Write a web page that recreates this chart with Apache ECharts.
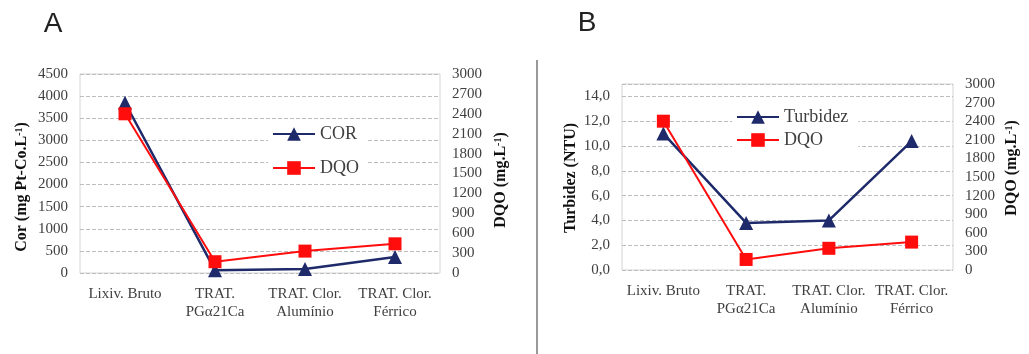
<!DOCTYPE html>
<html>
<head>
<meta charset="utf-8">
<script src="https://cdn.jsdelivr.net/npm/echarts@6/dist/echarts.min.js"></script>
<style>
html, body { margin: 0; padding: 0; background: #fff; }
#main { width: 1029px; height: 354px; }
</style>
</head>
<body>
<div id="main"></div>
<script>
// data
var categories = ['Lixiv. Bruto', 'TRAT.\nPGα21Ca', 'TRAT. Clor.\nAlumínio', 'TRAT. Clor.\nFérrico'];
var corA = [3850, 60, 90, 360];
var dqoA = [2400, 170, 330, 440];
var turbidezB = [11.0, 3.8, 4.0, 10.4];
var dqoB = [2400, 170, 350, 450];

var serif = "'Liberation Serif', 'Times New Roman', serif";
var navy = '#1f2a6b';
var red = '#ff0d0d';

function makeChart() {
    var chart = echarts.init(document.getElementById('main'));

    var tickLabel = { color: '#404040', fontFamily: serif, fontSize: 15 };
    var plain = function (v) { return String(v); };

    function catAxis(gridIndex) {
        return {
            type: 'category',
            gridIndex: gridIndex,
            data: categories,
            axisLine: { show: false },
            axisTick: { show: false },
            axisLabel: {
                interval: 0, margin: 12, color: '#404040',
                fontFamily: serif, fontSize: 15, lineHeight: 18
            }
        };
    }

    function valAxis(gridIndex, pos, max, interval, split, fmt) {
        return {
            type: 'value',
            gridIndex: gridIndex,
            position: pos,
            min: 0, max: max, interval: interval,
            axisLine: { show: false },
            axisTick: { show: false },
            axisLabel: Object.assign({ margin: 12, showMaxLabel: max % interval === 0, formatter: fmt || plain }, tickLabel),
            splitLine: { show: split, lineStyle: { color: '#bdbdbd', type: [4, 2], width: 1 } }
        };
    }

    function axisName(x, y, txt) {
        return {
            type: 'text', x: x, y: y, rotation: Math.PI / 2,
            style: {
                text: txt, textAlign: 'center', textVerticalAlign: 'middle',
                font: 'bold 16px ' + serif, fill: '#111',
                rich: { s: { fontSize: 10, fontWeight: 'bold', fontFamily: serif, verticalAlign: 'top', fill: '#111' } }
            }
        };
    }

    var legendText = { color: '#404040', fontFamily: serif, fontSize: 18 };

    var option = {
        animation: false,
        grid: [
            { left: 80, top: 74, width: 360, height: 199, show: true, borderColor: '#d4d4d4', borderWidth: 1 },
            { left: 622, top: 84, width: 331, height: 186, show: true, borderColor: '#d4d4d4', borderWidth: 1 }
        ],
        xAxis: [catAxis(0), catAxis(1)],
        yAxis: [
            valAxis(0, 'left', 4500, 500, true),
            valAxis(0, 'right', 3000, 300, false),
            valAxis(1, 'left', 15, 2, true, function (v) { return v.toFixed(1).replace('.', ','); }),
            valAxis(1, 'right', 3000, 300, false)
        ],
        legend: [
            {
                data: ['COR', 'DQO'],
                orient: 'vertical', left: 268, top: 123,
                itemWidth: 42, itemHeight: 17, itemGap: 16,
                backgroundColor: '#fff', padding: [2, 8, 2, 4],
                textStyle: legendText
            },
            {
                data: ['Turbidez', 'DQO'],
                orient: 'vertical', left: 732, top: 106,
                itemWidth: 42, itemHeight: 17, itemGap: 5,
                backgroundColor: '#fff', padding: [2, 10, 2, 4],
                textStyle: legendText
            }
        ],
        series: [
            {
                name: 'COR', type: 'line', xAxisIndex: 0, yAxisIndex: 0, data: corA,
                symbol: 'triangle', symbolSize: 14, color: navy, lineStyle: { width: 2.5 }
            },
            {
                name: 'DQO', type: 'line', xAxisIndex: 0, yAxisIndex: 1, data: dqoA,
                symbol: 'rect', symbolSize: 13, color: red, lineStyle: { width: 2 }
            },
            {
                name: 'Turbidez', type: 'line', xAxisIndex: 1, yAxisIndex: 2, data: turbidezB,
                symbol: 'triangle', symbolSize: 14, color: navy, lineStyle: { width: 2.5 }
            },
            {
                name: 'DQO', type: 'line', xAxisIndex: 1, yAxisIndex: 3, data: dqoB,
                symbol: 'rect', symbolSize: 13, color: red, lineStyle: { width: 2 }
            }
        ],
        graphic: [
            { type: 'text', x: 53, y: 24, style: { text: 'A', textAlign: 'center', textVerticalAlign: 'middle', font: '28px "Liberation Sans", Arial, sans-serif', fill: '#222' } },
            { type: 'text', x: 587, y: 23, style: { text: 'B', textAlign: 'center', textVerticalAlign: 'middle', font: '28px "Liberation Sans", Arial, sans-serif', fill: '#222' } },
            { type: 'line', shape: { x1: 537, y1: 60, x2: 537, y2: 354 }, style: { stroke: '#999', lineWidth: 2 } },
            axisName(22, 187, 'Cor (mg Pt-Co.L{s|-1})'),
            axisName(501, 180, 'DQO (mg.L{s|-1})'),
            axisName(571, 178, 'Turbidez (NTU)'),
            axisName(1012, 168, 'DQO (mg.L{s|-1})')
        ]
    };
    chart.setOption(option);
}

makeChart();
</script>
</body>
</html>
